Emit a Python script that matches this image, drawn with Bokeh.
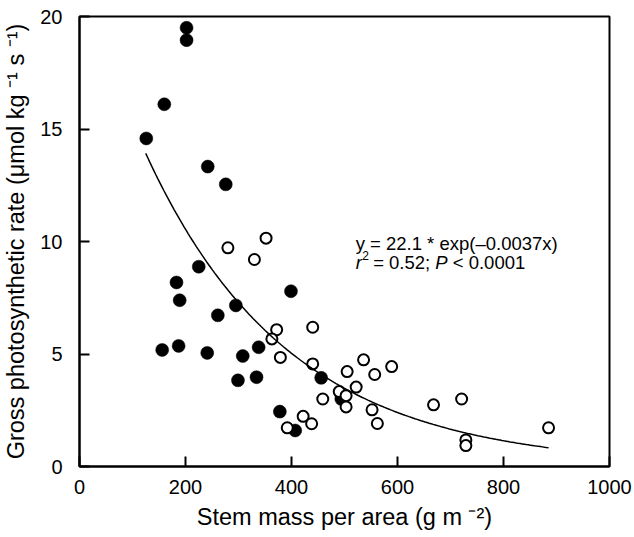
import numpy as np
from bokeh.plotting import figure
from bokeh.models import Label, Range1d, FixedTicker
from bokeh.embed import file_html
from bokeh.resources import INLINE

# ---- data ----
x_ticks = [0, 200, 400, 600, 800, 1000]
y_ticks = [0, 5, 10, 15, 20]

closed_x = [202, 202, 160, 126, 242, 276, 225, 183, 189, 261, 295, 399,
            156, 187, 241, 338, 308, 299, 334, 456, 378, 407, 494]
closed_y = [19.5, 18.95, 16.1, 14.58, 13.33, 12.54, 8.88, 8.18, 7.39, 6.72, 7.16, 7.79,
            5.18, 5.36, 5.05, 5.3, 4.91, 3.83, 3.97, 3.94, 2.44, 1.6, 3.0]

open_x = [280, 352, 330, 372, 363, 379, 440, 440, 459, 422, 438, 392,
          505, 536, 557, 589, 522, 490, 503, 503, 552, 562, 668, 721,
          729, 729, 885]
open_y = [9.72, 10.15, 9.2, 6.08, 5.67, 4.85, 6.19, 4.56, 3.0, 2.23, 1.9, 1.72,
          4.22, 4.74, 4.09, 4.44, 3.53, 3.33, 3.15, 2.65, 2.52, 1.91, 2.74, 3.0,
          1.18, 0.93, 1.72]

# fitted curve given on the chart: y = 22.1 * exp(-0.0037 x)
fit_a = 22.1
fit_b = -0.0037
fit_x_start = 125
fit_x_end = 885

eq_line1 = "y = 22.1 * exp(\u20130.0037x)"
x_label = "Stem mass per area (g m \u207b\u00b2)"
y_label = "Gross photosynthetic rate (\u03bcmol kg \u207b\u00b9 s \u207b\u00b9)"

FONT = "Liberation Sans"

fit_x = np.linspace(fit_x_start, fit_x_end, 200)
fit_y = fit_a * np.exp(fit_b * fit_x)

p = figure(width=634, height=537, output_backend="svg", toolbar_location=None,
           x_range=Range1d(0, 1000), y_range=Range1d(0, 20),
           min_border_left=79, min_border_right=25, min_border_top=16,
           min_border_bottom=71)

p.xgrid.visible = False
p.ygrid.visible = False
p.outline_line_color = "black"
p.outline_line_width = 2
p.outline_line_alpha = 1
p.background_fill_color = "white"
p.border_fill_color = "white"

p.xaxis.ticker = FixedTicker(ticks=x_ticks)
p.yaxis.ticker = FixedTicker(ticks=y_ticks)
for ax in (p.xaxis[0], p.yaxis[0]):
    ax.major_tick_in = 10
    ax.major_tick_out = 0
    ax.minor_tick_in = 0
    ax.minor_tick_out = 0
    ax.axis_line_width = 2
    ax.axis_line_color = "black"
    ax.major_tick_line_width = 2
    ax.major_tick_line_color = "black"
    ax.major_label_text_font = FONT
    ax.major_label_text_font_size = "20px"
    ax.major_label_text_color = "black"
    ax.axis_label_text_font = FONT
    ax.axis_label_text_font_size = "23.5px"
    ax.axis_label_text_font_style = "normal"
    ax.axis_label_text_color = "black"

p.xaxis.axis_label = x_label
p.yaxis.axis_label = y_label
p.xaxis.major_label_standoff = 13
p.xaxis.axis_label_standoff = 7
p.yaxis.major_label_standoff = 17
p.yaxis.axis_label_standoff = 8

p.scatter(closed_x, closed_y, size=13, fill_color="black", line_color="black",
          line_width=0.5)
p.scatter(open_x, open_y, size=11, fill_color="white", line_color="black",
          line_width=2)
p.line(fit_x, fit_y, line_color="black", line_width=1.5)

# equation annotation
eq_x = 521
eq_y1 = 9.91
eq_y2 = 9.07
fs = "18.5px"


def add_text(txt, y, dx=0, dy=0, size=fs, style="normal"):
    p.add_layout(Label(x=eq_x, y=y, x_offset=dx, y_offset=dy, text=txt,
                       text_font=FONT, text_font_size=size,
                       text_font_style=style, text_color="black",
                       text_baseline="alphabetic", text_align="left"))


add_text(eq_line1, eq_y1)
add_text("r", eq_y2, style="italic")
add_text("2", eq_y2, dx=6.5, dy=7, size="12px")
add_text("= 0.52;", eq_y2, dx=17.5)
add_text("P", eq_y2, dx=79.7, style="italic")
add_text("< 0.0001", eq_y2, dx=97.1)

open("out.html", "w").write(file_html(p, INLINE))
